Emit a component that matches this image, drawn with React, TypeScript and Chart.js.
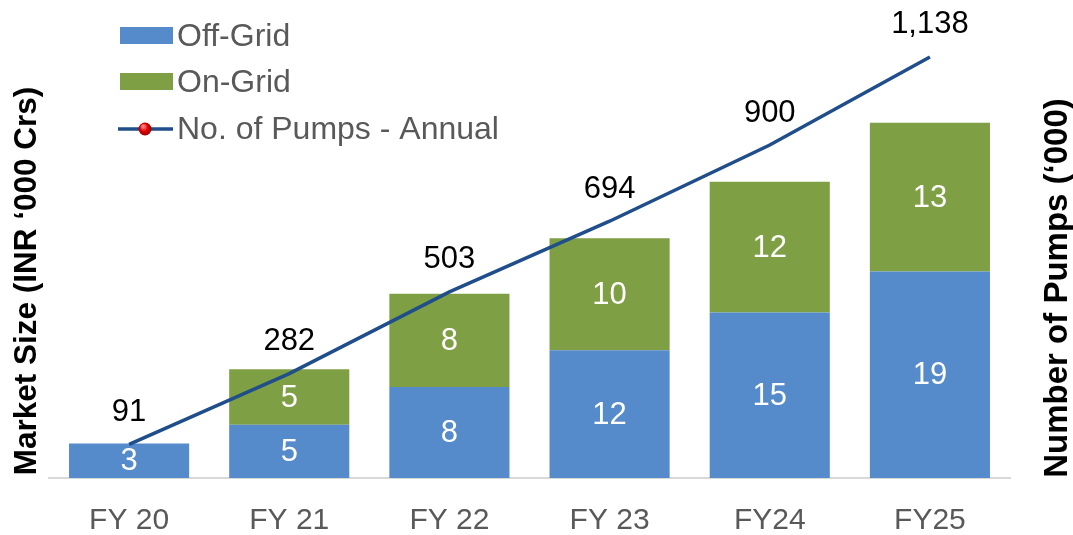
import React, { useEffect, useRef } from "react";
import { Chart, registerables } from "chart.js";

Chart.register(...registerables);

const categories = ["FY 20", "FY 21", "FY 22", "FY 23", "FY24", "FY25"];
const offGrid = [3.1, 4.8, 8.2, 11.5, 14.9, 18.6];
const onGrid = [null, 5.0, 8.4, 10.1, 11.8, 13.4];
const pumps = [91, 282, 503, 694, 900, 1138];
const offGridLabels = ["3", "5", "8", "12", "15", "19"];
const onGridLabels = ["", "5", "8", "10", "12", "13"];
const pumpLabels = ["91", "282", "503", "694", "900", "1,138"];

const BLUE = "#568BCB";
const GREEN = "#7F9F45";
const LINE = "#1F4E8A";
const GRAY = "#595959";
const FONT = "'Liberation Sans', Arial, sans-serif";

const overlayPlugin = {
  id: "overlay",
  afterDatasetsDraw(chart: any) {
    const ctx = chart.ctx;
    ctx.save();
    ctx.font = `31px ${FONT}`;
    ctx.fillStyle = "#FFFFFF";
    ctx.textAlign = "center";
    ctx.textBaseline = "middle";
    const m0 = chart.getDatasetMeta(0);
    const m1 = chart.getDatasetMeta(1);
    m0.data.forEach((el: any, i: number) => {
      const t = offGridLabels[i];
      if (!t) return;
      ctx.fillText(t, el.x, (el.y + el.base) / 2 + 1);
    });
    m1.data.forEach((el: any, i: number) => {
      const t = onGridLabels[i];
      if (!t || onGrid[i] == null) return;
      ctx.fillText(t, el.x, (el.y + el.base) / 2 + 1);
    });
    const m2 = chart.getDatasetMeta(2);
    ctx.fillStyle = "#000000";
    m2.data.forEach((el: any, i: number) => {
      ctx.fillText(pumpLabels[i], el.x, el.y - 32);
    });
    ctx.restore();
  },
  afterDraw(chart: any) {
    const ctx = chart.ctx;
    ctx.save();
    ctx.fillStyle = "#000000";
    ctx.textAlign = "center";
    ctx.textBaseline = "middle";
    ctx.font = `bold 31.5px ${FONT}`;
    ctx.translate(27, 281);
    ctx.rotate(-Math.PI / 2);
    ctx.fillText("Market Size (INR \u2018000 Crs)", 0, 0);
    ctx.setTransform(1, 0, 0, 1, 0, 0);
    ctx.font = `bold 33px ${FONT}`;
    ctx.translate(1058, 288);
    ctx.rotate(-Math.PI / 2);
    ctx.fillText("Number of Pumps (\u2018000)", 0, 0);
    ctx.setTransform(1, 0, 0, 1, 0, 0);
    // legend
    ctx.font = `32px ${FONT}`;
    ctx.textAlign = "left";
    ctx.fillStyle = BLUE;
    ctx.fillRect(120, 27, 53, 17);
    ctx.fillStyle = GREEN;
    ctx.fillRect(120, 73, 53, 17);
    ctx.strokeStyle = LINE;
    ctx.lineWidth = 3.5;
    ctx.beginPath();
    ctx.moveTo(118, 129);
    ctx.lineTo(173, 129);
    ctx.stroke();
    const g = ctx.createRadialGradient(143, 126, 1, 145, 129, 7);
    g.addColorStop(0, "#FF8080");
    g.addColorStop(0.5, "#E00000");
    g.addColorStop(1, "#900000");
    ctx.fillStyle = g;
    ctx.beginPath();
    ctx.arc(145, 129, 6.5, 0, Math.PI * 2);
    ctx.fill();
    ctx.fillStyle = GRAY;
    ctx.fillText("Off-Grid", 177, 37);
    ctx.fillText("On-Grid", 177, 83);
    ctx.fillText("No. of Pumps - Annual", 177, 130);
    ctx.restore();
  },
};

export default function App() {
  const ref = useRef<HTMLCanvasElement | null>(null);
  useEffect(() => {
    if (!ref.current) return;
    const chart = new Chart(ref.current, {
      type: "bar",
      data: {
        labels: categories,
        datasets: [
          {
            label: "Off-Grid",
            data: offGrid,
            backgroundColor: BLUE,
            yAxisID: "y",
            stack: "s",
            order: 1,
            barPercentage: 0.75,
            categoryPercentage: 1,
          },
          {
            label: "On-Grid",
            data: onGrid,
            backgroundColor: GREEN,
            yAxisID: "y",
            stack: "s",
            order: 1,
            barPercentage: 0.75,
            categoryPercentage: 1,
          },
          {
            type: "line",
            label: "No. of Pumps - Annual",
            data: pumps,
            borderColor: LINE,
            backgroundColor: LINE,
            borderWidth: 3.5,
            pointRadius: 0,
            tension: 0,
            yAxisID: "y1",
            order: 0,
          } as any,
        ],
      },
      options: {
        responsive: false,
        animation: false,
        layout: { padding: { left: 49, right: 63, top: 34, bottom: 0 } },
        plugins: {
          legend: { display: false },
          tooltip: { enabled: false },
        },
        scales: {
          x: {
            stacked: true,
            grid: { display: false },
            border: { display: true, color: "#D9D9D9", width: 2 },
            ticks: {
              color: GRAY,
              font: { family: FONT, size: 30 },
              padding: 17,
              maxRotation: 0,
            },
            afterFit(scale: any) {
              scale.height = 57;
            },
          },
          y: {
            display: false,
            stacked: true,
            min: 0,
            max: 40,
          },
          y1: {
            display: false,
            min: 0,
            max: 1200,
          },
        },
      },
      plugins: [overlayPlugin],
    });
    return () => chart.destroy();
  }, []);
  return (
    <div style={{ position: "fixed", left: 0, top: 0, width: 1073, height: 535, background: "#fff" }}>
      <canvas ref={ref} width={1073} height={535} style={{ width: 1073, height: 535 }} />
    </div>
  );
}
